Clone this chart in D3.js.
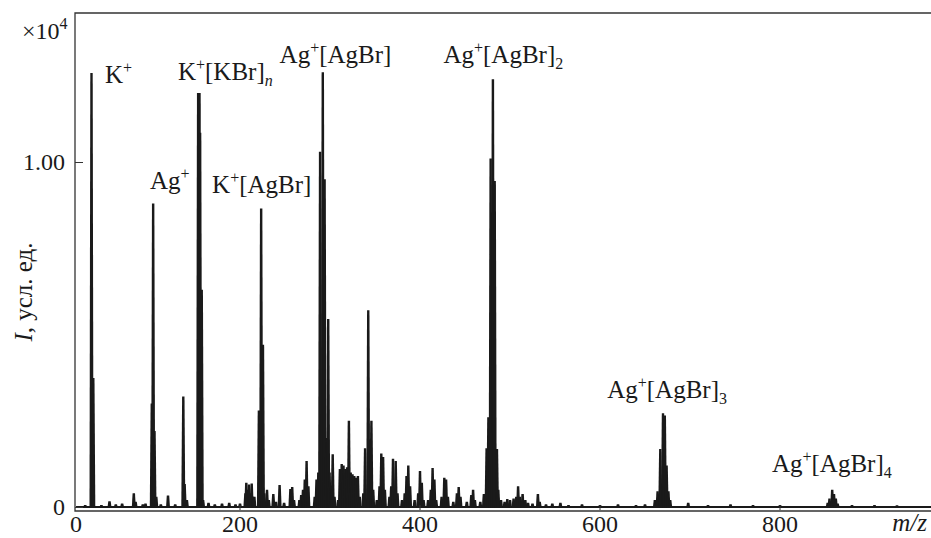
<!DOCTYPE html>
<html>
<head>
<meta charset="utf-8">
<script src="https://cdn.jsdelivr.net/npm/d3@7"></script>
<style>
  body { margin: 0; background: #fff; }
  svg text { font-family: "Liberation Serif", "Times New Roman", Times, "DejaVu Serif", serif !important; fill: #1a1a1a; }
</style>
</head>
<body>
<svg id="chart"></svg>
<script>
//*************** data (m/z, intensity in units of 10^4) ******************//

// K+ and low mass region
var lowMassPeaks = [
  [28, 0.006], [35, 1.258], [37, 0.374], [46, 0.006], [55, 0.017], [62, 0.008], [69, 0.01],
  [82, 0.04], [84, 0.015], [92, 0.008], [95, 0.01]
];

// Ag+ group
var agPeaks = [
  [102, 0.30], [103.5, 0.88], [105, 0.22], [107, 0.03], [112, 0.008],
  [120, 0.033], [128, 0.008], [137, 0.32], [138.5, 0.067], [141, 0.02]
];

// K+[KBr]n and K+[AgBr]
var kbrPeaks = [
  [153.5, 1.2], [155, 1.2], [155.7, 1.085], [157.5, 0.63], [159, 0.02],
  [165, 0.012], [172, 0.008], [180, 0.01], [188, 0.012], [195, 0.008], [200, 0.01],
  [206, 0.04], [207, 0.07], [208.5, 0.05], [210, 0.065], [211.5, 0.04], [213, 0.068],
  [214.5, 0.03], [216, 0.03],
  [221, 0.28], [223.5, 0.865], [225.5, 0.47], [227, 0.04],
  [230, 0.05], [232, 0.02], [237, 0.038], [240, 0.015], [244, 0.064], [249, 0.012],
  [256, 0.052], [258, 0.058], [260, 0.02],
  [266, 0.02], [268, 0.035], [270, 0.05], [272, 0.08], [274, 0.133], [276, 0.06]
];

// Ag+[AgBr] and the cluster series up to Ag+[AgBr]2
var ag2Peaks = [
  [283, 0.03], [285, 0.08], [287, 0.1], [289, 1.03], [292, 1.26], [294, 0.95],
  [296, 0.2], [298, 0.545], [299.5, 0.1], [301, 0.06], [303, 0.153], [305, 0.03],
  [309, 0.02], [311, 0.11], [313, 0.125], [315, 0.12], [317, 0.11], [319, 0.115],
  [321, 0.25], [323, 0.1], [325, 0.095], [327, 0.09], [329, 0.085], [331, 0.09], [333, 0.03],
  [337, 0.04], [339, 0.17], [342.5, 0.57], [346, 0.25], [348, 0.05],
  [352, 0.02], [355, 0.06], [357, 0.155], [359, 0.145], [361, 0.05],
  [366, 0.03], [368, 0.06], [370, 0.14], [373, 0.133], [375, 0.04],
  [380, 0.02], [383, 0.04], [385, 0.09], [387, 0.12], [389, 0.06],
  [394, 0.02], [398, 0.04], [400, 0.104], [402, 0.07], [404, 0.02],
  [409, 0.02], [412, 0.05], [414, 0.113], [416, 0.08], [418, 0.02],
  [424, 0.03], [427, 0.085], [429, 0.08], [431, 0.03],
  [437, 0.015], [441, 0.04], [443, 0.058], [445, 0.03],
  [452, 0.015], [457, 0.035], [459, 0.05], [461, 0.02],
  [467, 0.015], [471, 0.038], [472, 0.03]
];

// Ag+[AgBr]2 and what follows
var ag3Peaks = [
  [474, 0.17], [476, 0.26], [478.5, 1.01], [481, 1.24], [483, 0.945], [485.5, 0.168], [487, 0.05],
  [490, 0.02], [494, 0.015], [497, 0.023], [500, 0.02], [504, 0.025], [507, 0.03],
  [509, 0.06], [511, 0.03], [514, 0.038], [517, 0.02], [520, 0.012], [525, 0.01],
  [531, 0.038], [533, 0.015], [540, 0.008], [547, 0.01], [556, 0.012], [565, 0.006],
  [580, 0.008], [600, 0.006], [620, 0.008], [640, 0.006], [650, 0.008]
];

// Ag+[AgBr]3 and Ag+[AgBr]4
var highMassPeaks = [
  [661, 0.02], [664, 0.046], [667, 0.168], [670, 0.272], [672, 0.265], [674, 0.12],
  [676, 0.046], [678, 0.02],
  [698, 0.012], [720, 0.006], [745, 0.008], [770, 0.006], [800, 0.006],
  [853, 0.012], [855, 0.025], [858, 0.05], [860, 0.038], [862, 0.025], [864, 0.01],
  [880, 0.006], [905, 0.006], [930, 0.005]
];

// tick values
var xTicks = [0, 200, 400, 600, 800];
var yTicks = [0, 1];

// ion labels: text ("^" superscript, "_" subscript), anchor m/z, anchor intensity
var labelText = ["K^+", "Ag^+", "K^+[KBr]_n", "K^+[AgBr]", "Ag^+[AgBr]", "Ag^+[AgBr]_2", "Ag^+[AgBr]_3", "Ag^+[AgBr]_4"];
var labelMz   = [50, 100, 131, 169, 244, 426, 608, 791];
var labelInt  = [1.229, 0.922, 1.238, 0.910, 1.287, 1.287, 0.316, 0.101];


//*************** initialise parameters ******************//
var W = 931, H = 538;
var plot = {left: 75, right: 931, top: 13, bottom: 511};
var serif = "'Liberation Serif', 'Times New Roman', Times, 'DejaVu Serif', serif";

var svg = d3.select("#chart")
  .attr("width", W)
  .attr("height", H);

svg.append("rect").attr("width", W).attr("height", H).attr("fill", "#fff");

// scales
var xScale = d3.scaleLinear().domain([0, 800]).range([60, 780]);
var yScale = d3.scaleLinear().domain([0, 1]).range([507, 162]);

var allPeaks = [].concat(lowMassPeaks, agPeaks, kbrPeaks, ag2Peaks, ag3Peaks, highMassPeaks)
  .sort(function(a, b) { return a[0] - b[0]; });

//--------------- spectrum
svg.append("clipPath").attr("id", "clip")
  .append("rect")
  .attr("x", plot.left + 1).attr("y", plot.top)
  .attr("width", plot.right - plot.left).attr("height", plot.bottom - plot.top);

var spec = svg.append("g").attr("clip-path", "url(#clip)");

// baseline of the spectrum
spec.append("line")
  .attr("x1", plot.left).attr("x2", plot.right)
  .attr("y1", yScale(0)).attr("y2", yScale(0))
  .attr("stroke", "#1a1a1a")
  .attr("stroke-width", 1.8);

// each peak as a narrow filled spike
spec.selectAll("path.peak")
  .data(allPeaks)
  .enter().append("path")
  .attr("class", "peak")
  .attr("fill", "#1a1a1a")
  .attr("d", function(d) {
    var cx = xScale(d[0]), y0 = yScale(0) + 0.5, y1 = yScale(d[1]);
    return "M" + (cx - 2) + "," + y0 + "L" + (cx - 1.2) + "," + y1 +
           "L" + (cx + 1.2) + "," + y1 + "L" + (cx + 2) + "," + y0 + "Z";
  });

//--------------- frame
svg.append("path")
  .attr("d", "M" + plot.right + "," + plot.top + "H" + plot.left + "V" + plot.bottom + "H" + plot.right)
  .attr("fill", "none")
  .attr("stroke", "#333")
  .attr("stroke-width", 1.3);

//--------------- axes
var xAxis = d3.axisBottom(xScale)
  .tickValues(xTicks)
  .tickSize(-6)
  .tickPadding(4)
  .tickFormat(d3.format("d"));

var gx = svg.append("g")
  .attr("transform", "translate(0," + plot.bottom + ")")
  .call(xAxis);
gx.attr("font-family", serif);
gx.select(".domain").remove();
gx.selectAll(".tick")
  .attr("transform", function(d) { return "translate(" + Math.max(xScale(d), plot.left + 1) + ",0)"; });
gx.selectAll(".tick line").attr("stroke", "#333").attr("y1", -1).attr("y2", -6)
  .style("display", function(d) { return d === 0 ? "none" : null; });
gx.selectAll(".tick text")
  .attr("dy", "0.71em")
  .style("font-size", "24px")
  .attr("fill", "#1a1a1a");

var yAxis = d3.axisLeft(yScale)
  .tickValues(yTicks)
  .tickSize(-8)
  .tickPadding(10)
  .tickFormat(function(d) { return d === 0 ? "0" : d3.format(".2f")(d); });

var gy = svg.append("g")
  .attr("transform", "translate(" + plot.left + ",0)")
  .call(yAxis);
gy.attr("font-family", serif);
gy.select(".domain").remove();
gy.selectAll(".tick line").attr("stroke", "#333");
gy.selectAll(".tick text")
  .style("font-size", "24px")
  .attr("fill", "#1a1a1a");

// x10^4 multiplier
var mult = svg.append("text")
  .attr("x", 22).attr("y", 39)
  .style("font-size", "24px");
mult.append("tspan").text("×10");
mult.append("tspan").attr("dy", -10).style("font-size", "16px").text("4");

// axis titles
var yTitle = svg.append("text")
  .attr("transform", "translate(32,292) rotate(-90)")
  .attr("text-anchor", "middle")
  .style("font-size", "25px");
yTitle.append("tspan").style("font-style", "italic").text("I");
yTitle.append("tspan").text(", усл. ед.");

svg.append("text")
  .attr("x", 927).attr("y", 531)
  .attr("text-anchor", "end")
  .style("font-size", "25px")
  .style("font-style", "italic")
  .text("m/z");

//--------------- ion labels
function addLabel(str, mz, val) {
  var t = svg.append("text")
    .attr("x", xScale(mz))
    .attr("y", yScale(val))
    .style("font-size", "25px");
  var shift = 0;
  for (var i = 0; i < str.length; i++) {
    var c = str[i];
    if (c === "^" || c === "_") {
      var ch = str[++i];
      var dy = c === "^" ? -10 : 6;
      t.append("tspan")
        .attr("dy", dy - shift)
        .style("font-size", "16px")
        .style("font-style", /[a-z]/.test(ch) ? "italic" : "normal")
        .text(ch);
      shift = dy;
    } else {
      t.append("tspan").attr("dy", -shift).text(c);
      shift = 0;
    }
  }
}

labelText.forEach(function(s, i) { addLabel(s, labelMz[i], labelInt[i]); });
</script>
</body>
</html>
